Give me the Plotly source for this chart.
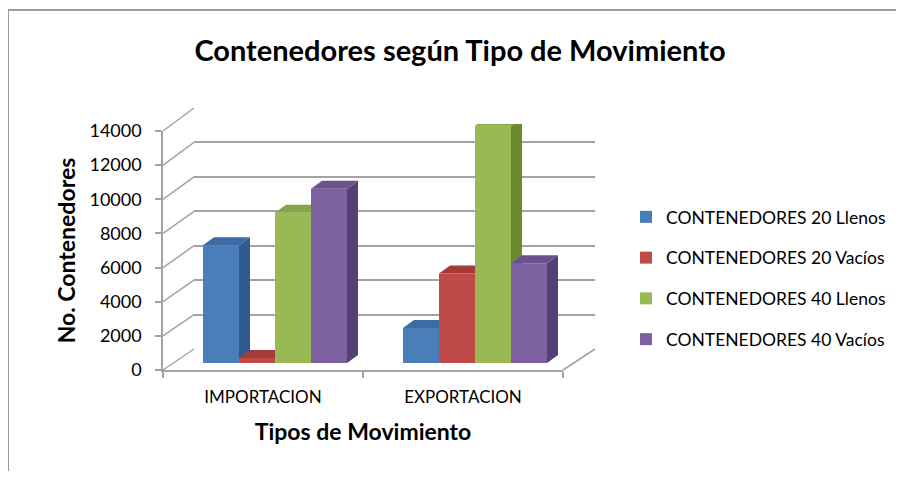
import plotly.graph_objects as go

# ---------------- data ----------------
categories = ["IMPORTACION", "EXPORTACION"]
series_names = ["CONTENEDORES 20 Llenos", "CONTENEDORES 20 Vacíos",
                "CONTENEDORES 40 Llenos", "CONTENEDORES 40 Vacíos"]
llenos_20 = [6900, 2050]
vacios_20 = [300, 5250]
llenos_40 = [8800, 13900]
vacios_40 = [10200, 5850]
y_ticks = [0, 2000, 4000, 6000, 8000, 10000, 12000, 14000]

title_text = "Contenedores según Tipo de Movimiento"
x_title = "Tipos de Movimiento"
y_title = "No. Contenedores"

# ---------------- style ----------------
PAGE_W, PAGE_H = 904, 479
BODY = 8                      # browser default body margin
W, H = PAGE_W - 2 * BODY, PAGE_H - 2 * BODY
FONT = "Lato"
front_col = ["#4A7EBB", "#BE4B48", "#98B954", "#7D60A0"]
side_col = ["#2F5A8E", "#8E2F2D", "#6B8A30", "#553F77"]
top_col = ["#3D6BA6", "#A63C3A", "#85A546", "#6A5190"]
grid_col = "#A3A3A3"


def fx(p):
    """page pixel x -> paper fraction"""
    return (p - BODY) / W


def fy(p):
    """page pixel y (from top) -> paper fraction"""
    return (H - (p - BODY)) / H


Y_MAX = y_ticks[-1]
FRONT_X = (163, 563)
FRONT_Y = (370, 131)
BAR_X = (175, 575)
BAR_Y = (363, 124)
BACK_X = (194, 595)
BACK_Y = (349, 108)

series_values = [llenos_20, vacios_20, llenos_40, vacios_40]
n_series = len(series_values)
bar_w = 0.18
cat_pos = list(range(len(categories)))
x_range = [-0.5, len(categories) - 0.5]
units_per_px_x = (x_range[1] - x_range[0]) / (BAR_X[1] - BAR_X[0])
units_per_px_y = Y_MAX / (BAR_Y[0] - BAR_Y[1])
depth_dx = 11 * units_per_px_x
depth_dy = 8 * units_per_px_y

fig = go.Figure()

# invisible anchors so the back-wall grid and the front axes get drawn
fig.add_trace(go.Scatter(x=cat_pos, y=[0] * len(cat_pos), mode="none",
                         xaxis="x", yaxis="y", showlegend=False,
                         hoverinfo="skip"))
fig.add_trace(go.Scatter(x=cat_pos, y=[0] * len(cat_pos), mode="none",
                         xaxis="x2", yaxis="y2", showlegend=False,
                         hoverinfo="skip"))

bar_axes = ["x3", "x4", "x5", "x6"]
for k, (name, vals) in enumerate(zip(series_names, series_values)):
    xa = bar_axes[k]
    offset = (k - n_series / 2) * bar_w
    lefts = [c + offset for c in cat_pos]
    fig.add_trace(go.Bar(
        x=cat_pos, y=vals, width=bar_w, offset=offset, name=name,
        marker=dict(color=front_col[k], line=dict(width=0)),
        xaxis=xa, yaxis="y3", legendgroup=name, showlegend=True,
    ))
    sx, sy, tx, ty = [], [], [], []
    for left, v in zip(lefts, vals):
        right = left + bar_w
        sx += [right, right + depth_dx, right + depth_dx, right, right, None]
        sy += [0, depth_dy, v + depth_dy, v, 0, None]
        tx += [left, left + depth_dx, right + depth_dx, right, left, None]
        ty += [v, v + depth_dy, v + depth_dy, v, v, None]
    fig.add_trace(go.Scatter(x=sx, y=sy, mode="lines", fill="toself",
                             fillcolor=side_col[k], line=dict(width=0),
                             xaxis=xa, yaxis="y3", showlegend=False,
                             hoverinfo="skip"))
    fig.add_trace(go.Scatter(x=tx, y=ty, mode="lines", fill="toself",
                             fillcolor=top_col[k], line=dict(width=0),
                             xaxis=xa, yaxis="y3", showlegend=False,
                             hoverinfo="skip"))

shapes = []
# chart border
shapes.append(dict(type="rect", xref="paper", yref="paper",
                   x0=fx(8), x1=fx(PAGE_W + 10), y0=fy(PAGE_H + 10), y1=fy(10),
                   line=dict(color="#9A9A9A", width=2)))


def front_y(v):
    return FRONT_Y[0] - (FRONT_Y[0] - FRONT_Y[1]) * v / Y_MAX


def back_y(v):
    return BACK_Y[0] - (BACK_Y[0] - BACK_Y[1]) * v / Y_MAX


for v in y_ticks:
    shapes.append(dict(type="line", xref="paper", yref="paper",
                       x0=fx(FRONT_X[0]), y0=fy(front_y(v)),
                       x1=fx(BACK_X[0]), y1=fy(back_y(v)),
                       line=dict(color=grid_col, width=1.5)))
shapes.append(dict(type="line", xref="paper", yref="paper",
                   x0=fx(FRONT_X[1]), y0=fy(front_y(0)),
                   x1=fx(BACK_X[1]), y1=fy(back_y(0)),
                   line=dict(color=grid_col, width=1.5)))

hidden_axis = dict(showgrid=False, showticklabels=False, ticks="",
                   zeroline=False, showline=False, automargin=False)

layout = dict(
    width=W, height=H,
    margin=dict(l=0, r=0, t=0, b=0, pad=0, autoexpand=False),
    paper_bgcolor="white", plot_bgcolor="rgba(0,0,0,0)",
    font=dict(family=FONT, color="#000000"),
    barmode="overlay",
    title=dict(text=title_text, x=fx(460), y=fy(51), xanchor="center",
               yanchor="middle", font=dict(family=FONT, size=29,
                                           color="#000000", weight="bold")),
    showlegend=True,
    legend=dict(x=fx(626), y=fy(199), xanchor="left", yanchor="top",
                font=dict(family=FONT, size=17.5, color="#000000"),
                tracegroupgap=15, bgcolor="rgba(0,0,0,0)"),
    shapes=shapes,
    # back wall grid
    xaxis=dict(domain=[fx(BACK_X[0]), fx(BACK_X[1])], range=x_range,
               anchor="y", **hidden_axis),
    yaxis=dict(domain=[fy(BACK_Y[0]), fy(BACK_Y[1])], range=[0, Y_MAX],
               anchor="x", tickvals=y_ticks, showgrid=True,
               gridcolor=grid_col, gridwidth=1.8, showticklabels=False,
               ticks="", zeroline=False, showline=False, automargin=False),
    # front axes
    xaxis2=dict(domain=[fx(FRONT_X[0]), fx(FRONT_X[1])], range=x_range,
                anchor="y2", tickvals=cat_pos, ticktext=categories,
                ticks="", showgrid=False, zeroline=False, showline=True,
                linecolor=grid_col, linewidth=1.5, ticklabelstandoff=11,
                automargin=False,
                tickfont=dict(family=FONT, size=17, color="#000000"),
                minor=dict(tickvals=[c - 0.5 for c in cat_pos] + [cat_pos[-1] + 0.5],
                           ticks="outside", ticklen=6, tickcolor=grid_col,
                           tickwidth=1.5, showgrid=False),
                title=dict(text=x_title, standoff=18,
                           font=dict(family=FONT, size=23, color="#000000",
                                     weight="bold"))),
    yaxis2=dict(domain=[fy(FRONT_Y[0]), fy(FRONT_Y[1])], range=[0, Y_MAX],
                anchor="x2", tickvals=y_ticks, tickformat="d",
                ticks="outside", ticklen=6, ticklabelstandoff=10,
                tickcolor=grid_col, tickwidth=1.5, showgrid=False,
                zeroline=False, showline=True, linecolor=grid_col,
                linewidth=1.5, automargin=False,
                tickfont=dict(family=FONT, size=18, color="#000000"),
                title=dict(text=y_title, standoff=7,
                           font=dict(family=FONT, size=23, color="#000000",
                                     weight="bold"))),
    # bars
    xaxis3=dict(domain=[fx(BAR_X[0]), fx(BAR_X[1])], range=x_range,
                anchor="y3", **hidden_axis),
    yaxis3=dict(domain=[fy(BAR_Y[0]), fy(BAR_Y[1])], range=[0, Y_MAX],
                anchor="x3", **hidden_axis),
)
for ax in ["xaxis4", "xaxis5", "xaxis6"]:
    layout[ax] = dict(overlaying="x3", range=x_range, anchor="y3",
                      **hidden_axis)

fig.update_layout(**layout)
fig.write_html("out.html")
